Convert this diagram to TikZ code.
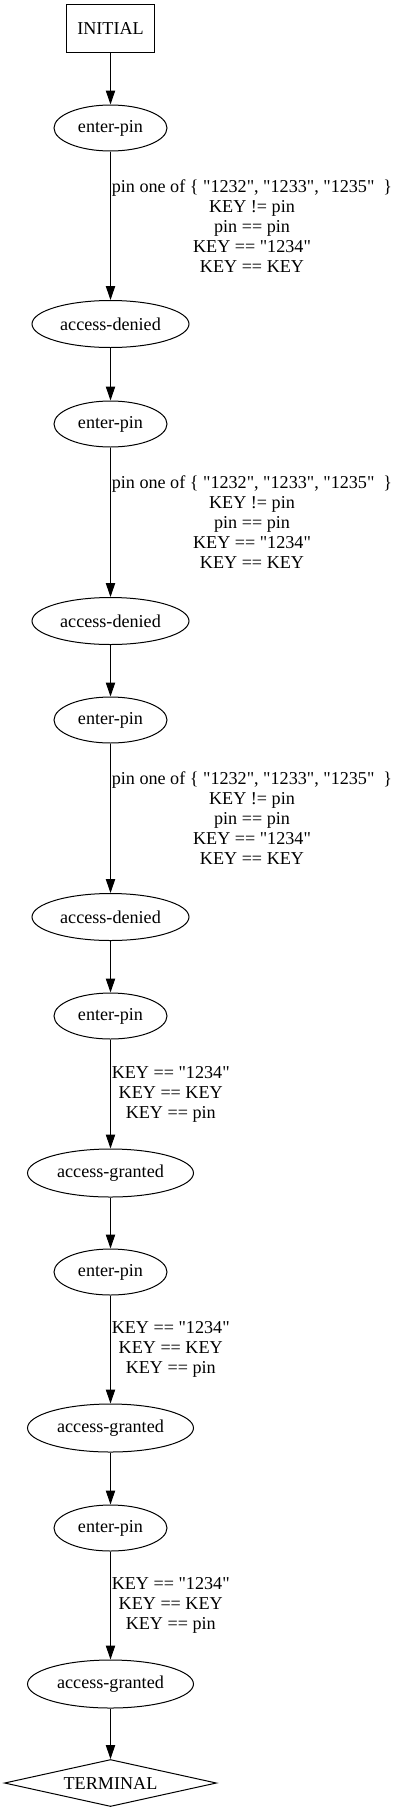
\documentclass[tikz,border=0pt]{standalone}
\usepackage{fontspec}
\setmainfont{Liberation Serif}[Ligatures=TeXOff]
\usetikzlibrary{shapes.geometric,arrows.meta}
\begin{document}
\begin{tikzpicture}[x=0.75pt,y=-0.75pt,
  every node/.style={font=\fontsize{13.6}{15}\selectfont, line width=0.75pt, inner sep=0pt},
  initbox/.style={draw, rectangle, minimum width=66.5pt, minimum height=36.3pt},
  epnode/.style={draw, ellipse, minimum width=84.75pt, minimum height=34.5pt},
  adnode/.style={draw, ellipse, minimum width=117.75pt, minimum height=35.25pt},
  agnode/.style={draw, ellipse, minimum width=124.5pt, minimum height=36pt},
  termnode/.style={draw, diamond, shape aspect=4.5, minimum width=159pt, minimum height=35.25pt},
  conn/.style={line width=0.75pt, -{Triangle[length=10.5pt,width=7pt]}},
  elabel/.style={right, align=center, inner xsep=0.6pt}]
\useasboundingbox (0,0) rectangle (400,1813);
\node[initbox] (init) at (110.5,28.5) {INITIAL};
\node[epnode] (ep1) at (110.5,128) {enter-pin};
\node[adnode] (ad1) at (110.5,324) {access-denied};
\node[epnode] (ep2) at (110.5,424) {enter-pin};
\node[adnode] (ad2) at (110.5,621) {access-denied};
\node[epnode] (ep3) at (110.5,720) {enter-pin};
\node[adnode] (ad3) at (110.5,917) {access-denied};
\node[epnode] (ep4) at (110.5,1016) {enter-pin};
\node[agnode] (ag1) at (110.5,1173) {access-granted};
\node[epnode] (ep5) at (110.5,1272) {enter-pin};
\node[agnode] (ag2) at (110.5,1428) {access-granted};
\node[epnode] (ep6) at (110.5,1528) {enter-pin};
\node[agnode] (ag3) at (110.5,1684) {access-granted};
\node[termnode] (term) at (110.5,1783) {TERMINAL};
\draw[conn] (init) -- (ep1);
\draw[conn] (ep1) -- node[elabel] {pin one of \{ "1232", "1233", "1235"\ \ \}\\KEY != pin\\pin == pin\\KEY == "1234"\\KEY == KEY} (ad1);
\draw[conn] (ad1) -- (ep2);
\draw[conn] (ep2) -- node[elabel] {pin one of \{ "1232", "1233", "1235"\ \ \}\\KEY != pin\\pin == pin\\KEY == "1234"\\KEY == KEY} (ad2);
\draw[conn] (ad2) -- (ep3);
\draw[conn] (ep3) -- node[elabel] {pin one of \{ "1232", "1233", "1235"\ \ \}\\KEY != pin\\pin == pin\\KEY == "1234"\\KEY == KEY} (ad3);
\draw[conn] (ad3) -- (ep4);
\draw[conn] (ep4) -- node[elabel] {KEY == "1234"\\KEY == KEY\\KEY == pin} (ag1);
\draw[conn] (ag1) -- (ep5);
\draw[conn] (ep5) -- node[elabel] {KEY == "1234"\\KEY == KEY\\KEY == pin} (ag2);
\draw[conn] (ag2) -- (ep6);
\draw[conn] (ep6) -- node[elabel] {KEY == "1234"\\KEY == KEY\\KEY == pin} (ag3);
\draw[conn] (ag3) -- (term);
\end{tikzpicture}
\end{document}
